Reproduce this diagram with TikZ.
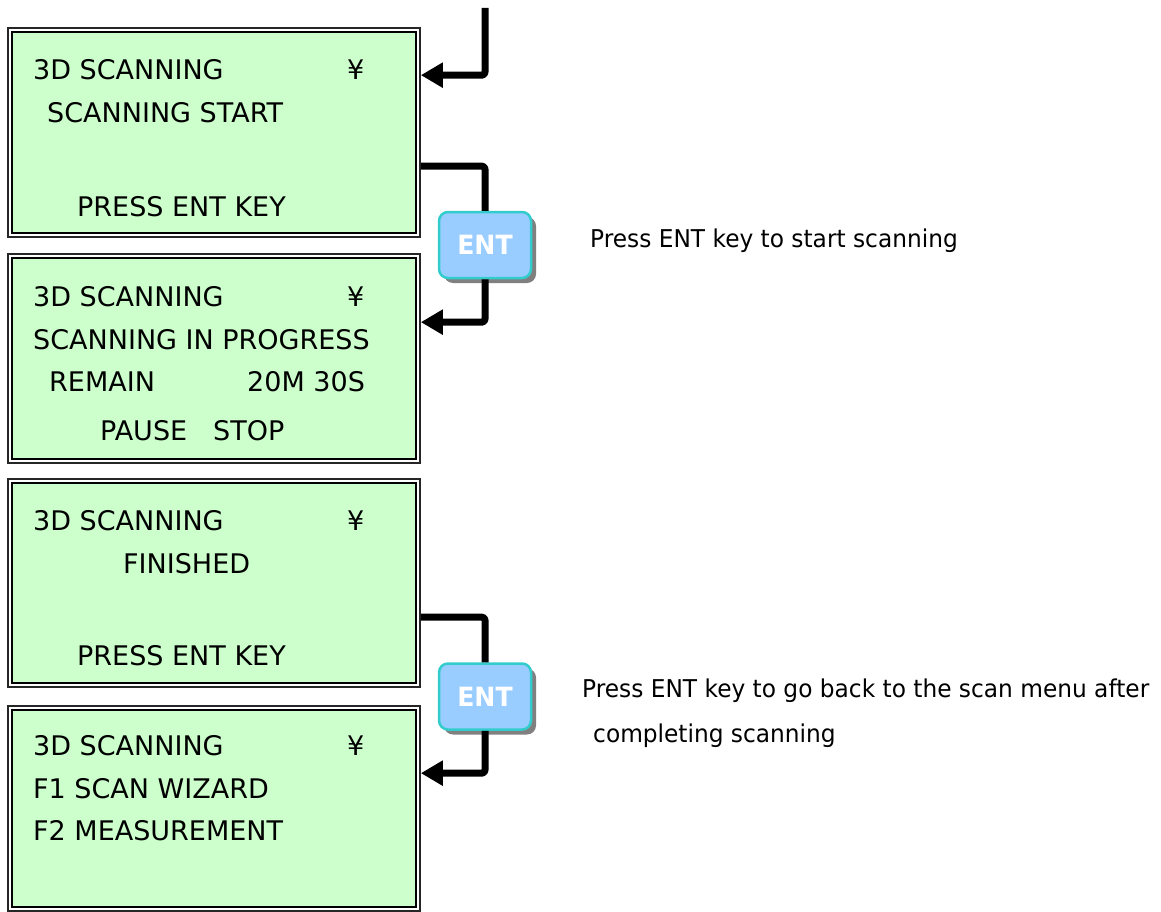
\documentclass[tikz,border=0pt]{standalone}
\usepackage{fontspec}
\setmainfont{DejaVu Sans}
\newfontfamily\descfont{DejaVu Sans}[FakeStretch=0.95]
\newfontfamily\entfont{DejaVu Sans}[FakeStretch=0.95]
\usetikzlibrary{arrows.meta,shadows}
\definecolor{lcdgreen}{HTML}{CCFFCC}
\definecolor{keyblue}{HTML}{99CCFF}
\definecolor{keyedge}{HTML}{33CCCC}
\begin{document}
\begin{tikzpicture}[x=1pt,y=-1pt,
  lcd/.style={rectangle,draw=black!85,line width=1.7pt,fill=white,minimum width=412pt,inner sep=0pt},
  lcdinner/.style={draw=black,line width=2.2pt,fill=lcdgreen},
  lcdtext/.style={anchor=base west,inner sep=0pt,font=\fontsize{27}{27}\selectfont},
  desc/.style={anchor=base west,inner sep=0pt,font=\descfont\fontsize{24.5}{24.5}\selectfont},
  entkey/.style={rectangle,rounded corners=9pt,draw=keyedge,line width=2.5pt,fill=keyblue,
    minimum width=92pt,minimum height=66pt,text=white,font=\entfont\bfseries\fontsize{26.5}{26.5}\selectfont,
    drop shadow={shadow xshift=5pt,shadow yshift=-5pt,fill=black!50,opacity=1}},
  conn/.style={line width=7pt,line join=round,rounded corners=3pt,-{Triangle[length=22pt,width=24pt]}},
  connplain/.style={line width=7pt,line join=round,rounded corners=3pt}]
\useasboundingbox (0,0) rectangle (1161,912);

% LCD boxes
\node[lcd,minimum height=209pt] (b1) at (214,132.5) {};
\node[lcd,minimum height=209pt] (b2) at (214,358.5) {};
\node[lcd,minimum height=208pt] (b3) at (214,583) {};
\node[lcd,minimum height=205pt] (b4) at (214,808.5) {};
\foreach \b in {b1,b2,b3,b4}
  \draw[lcdinner] ([shift={(5,5)}]\b.north west) rectangle ([shift={(-5,-5)}]\b.south east);

% box 1 text
\node[lcdtext] (t1a) at (33,80) {3D SCANNING};
\node[lcdtext] (t1y) at (347,80) {¥};
\node[lcdtext] (t1b) at (47,123) {SCANNING START};
\node[lcdtext] (t1c) at (77,216) {PRESS ENT KEY};
% box 2 text
\node[lcdtext] (t2a) at (33,306) {3D SCANNING};
\node[lcdtext] (t2y) at (347,306) {¥};
\node[lcdtext] (t2b) at (33,349) {SCANNING IN PROGRESS};
\node[lcdtext] (t2c) at (49,391) {REMAIN};
\node[lcdtext] (t2d) at (247,391) {20M 30S};
\node[lcdtext] (t2e) at (100,440) {PAUSE};
\node[lcdtext] (t2f) at (213,440) {STOP};
% box 3 text
\node[lcdtext] (t3a) at (33,530) {3D SCANNING};
\node[lcdtext] (t3y) at (347,530) {¥};
\node[lcdtext] (t3b) at (123,573) {FINISHED};
\node[lcdtext] (t3c) at (77,665) {PRESS ENT KEY};
% box 4 text
\node[lcdtext] (t4a) at (33,755) {3D SCANNING};
\node[lcdtext] (t4y) at (347,755) {¥};
\node[lcdtext] (t4b) at (33,798) {F1 SCAN WIZARD};
\node[lcdtext] (t4c) at (33,840) {F2 MEASUREMENT};

% ENT keys
\node[entkey] (e1) at (485,245) {ENT};
\node[entkey] (e2) at (485,696.5) {ENT};

% descriptions
\node[desc] (d1) at (590,247) {Press ENT key to start scanning};
\node[desc] (d2) at (582,697) {Press ENT key to go back to the scan menu after};
\node[desc] (d3) at (593,742) {completing scanning};

% connectors
\coordinate (top) at (485,8);
\draw[conn] (top) |- ([yshift=-48pt]b1.north east);
\draw[connplain] ([yshift=-139pt]b1.north east) -| (e1.north);
\draw[conn] (e1.south) |- ([yshift=-69pt]b2.north east);
\draw[connplain] ([yshift=-139pt]b3.north east) -| (e2.north);
\draw[conn] (e2.south) |- ([yshift=-68pt]b4.north east);
\end{tikzpicture}
\end{document}
